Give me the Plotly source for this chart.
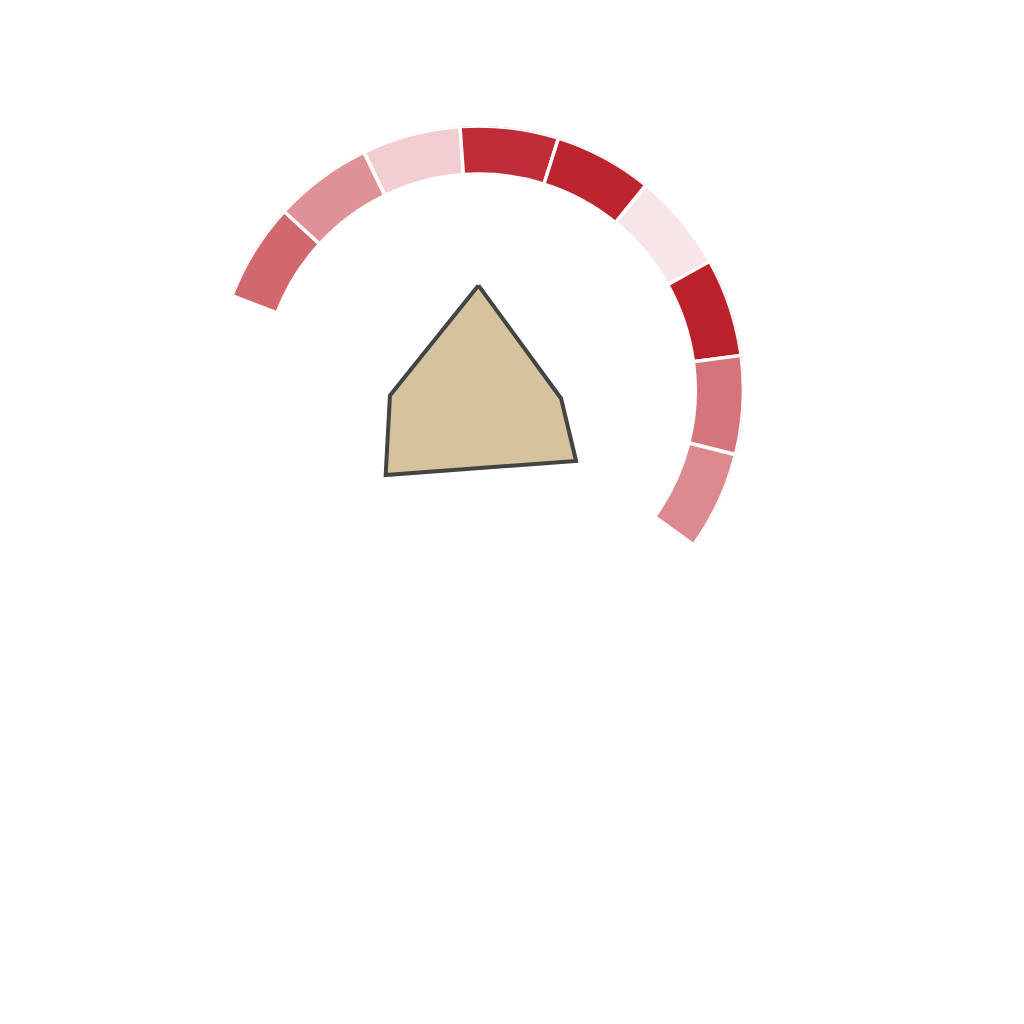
import plotly.graph_objects as go

# Ring segments (angles in degrees, counter-clockwise from east)
seg_theta = [148.2, 126.6, 104.9, 83.3, 61.7, 40.0, 18.4, -3.2, -24.9]
seg_base = [81.8, 81.8, 81.8, 81.8, 81.8, 81.8, 81.8, 81.8, 81.8]
seg_len = [18.2, 18.2, 18.2, 18.2, 18.2, 18.2, 18.2, 18.2, 18.2]
seg_colors = ["#d1686e", "#de9297", "#f1ced2", "#bf2d39", "#bc242f",
              "#f7e5e8", "#bb212a", "#d5747b", "#dc8a90"]
seg_width = 21.63

# Central polygon
poly_theta = [90.3, -5.6, -36.0, 222.2, 183.3]
poly_r = [39.7, 31.2, 45.4, 47.6, 33.7]

fig = go.Figure()
fig.add_trace(go.Barpolar(
    theta=seg_theta, r=seg_len, base=seg_base, width=seg_width,
    marker=dict(color=seg_colors, line=dict(color="white", width=3.5)),
    hoverinfo="skip",
))
fig.add_trace(go.Scatterpolar(
    theta=poly_theta + poly_theta[:1], r=poly_r + poly_r[:1],
    mode="lines", fill="toself", fillcolor="#d4c39c",
    line=dict(color="#444444", width=4),
    hoverinfo="skip",
))

fig.update_layout(
    template="none",
    width=1024, height=1024,
    margin=dict(l=0, r=0, t=0, b=0),
    paper_bgcolor="white", plot_bgcolor="white",
    showlegend=False,
    polar=dict(
        domain=dict(x=[0.2016, 0.7182], y=[0.3682, 0.8849]),
        bgcolor="white",
        radialaxis=dict(range=[0, 100], visible=False, showgrid=False,
                        showline=False, showticklabels=False, ticks=""),
        angularaxis=dict(visible=False, showgrid=False, showline=False,
                         showticklabels=False, ticks="",
                         direction="counterclockwise", rotation=0),
    ),
)

fig.write_html("out.html")
